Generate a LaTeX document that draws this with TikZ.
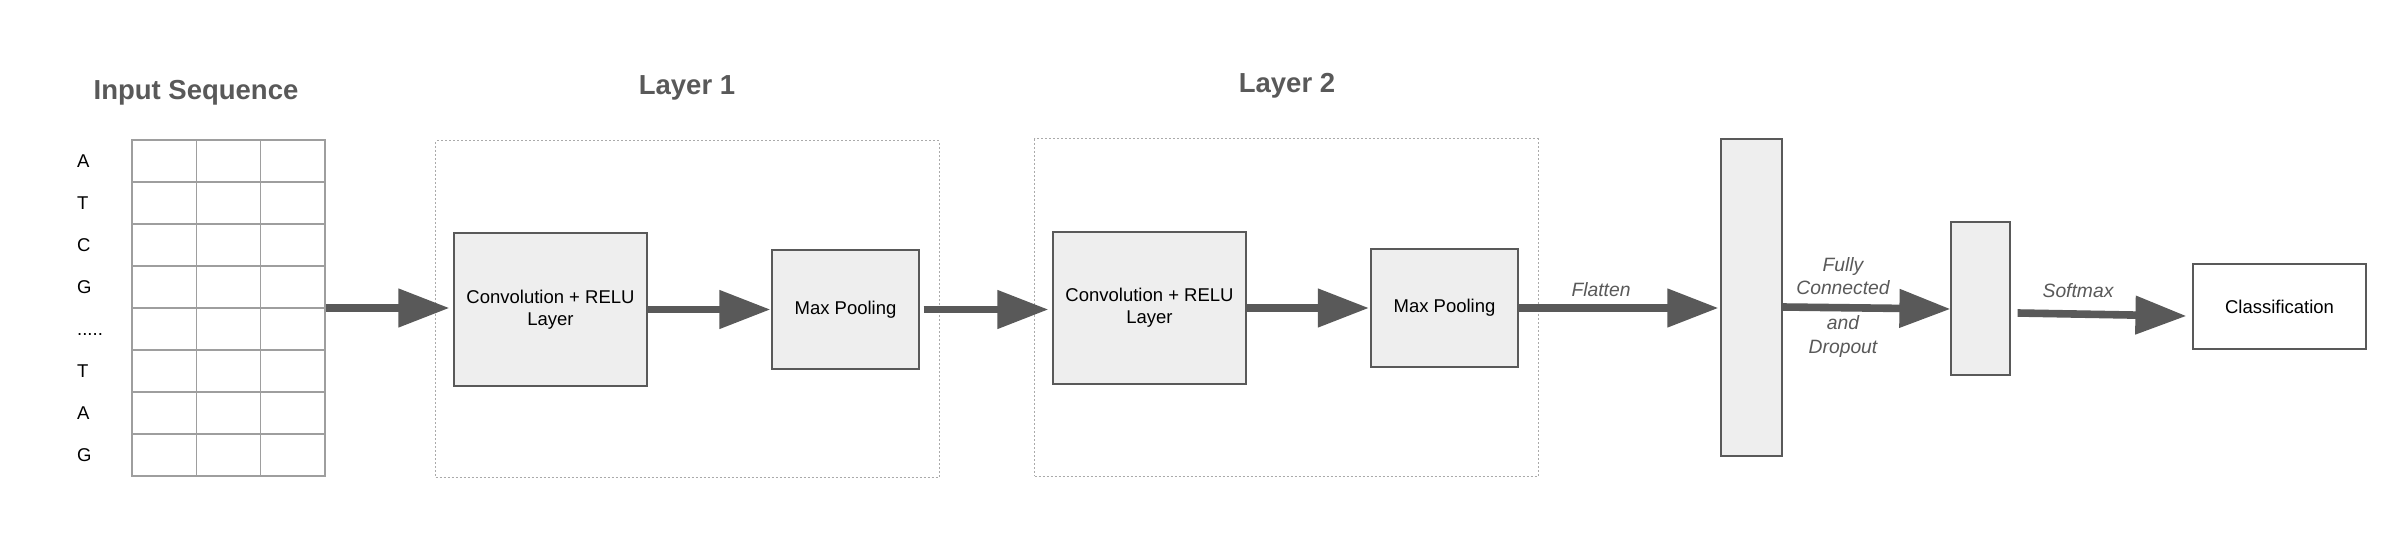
\documentclass[tikz,border=0pt]{standalone}
\usepackage{fontspec}
\setmainfont{Liberation Sans}
\usetikzlibrary{arrows.meta}
\definecolor{dk}{HTML}{595959}
\definecolor{boxfill}{HTML}{EEEEEE}
\definecolor{gridcol}{HTML}{9E9E9E}
\definecolor{dashcol}{HTML}{AAAAAA}
\newcommand\mybodyfont{\fontsize{18.5}{22}\selectfont}
\newcommand\myitfont{\fontsize{19.3}{23}\selectfont\itshape}
\newcommand\mytitlefont{\fontsize{27.5}{32}\selectfont\bfseries}
\newcommand\mydots{.....}
\begin{document}
\begin{tikzpicture}[x=1pt,y=-1pt,
  titletext/.style={font=\mytitlefont, text=dk, inner sep=0pt},
  box/.style={draw=dk, line width=1.2pt, fill=boxfill, inner sep=0pt, align=center, font=\mybodyfont},
  whitebox/.style={box, fill=white},
  gridbox/.style={draw=gridcol, line width=1.3pt, inner sep=0pt},
  gridline/.style={draw=gridcol, line width=1.3pt},
  dashedbox/.style={draw=dashcol, line width=1pt, dash pattern=on 2pt off 2pt, inner sep=0pt},
  rowlab/.style={font=\mybodyfont, inner sep=0pt, anchor=base west},
  arrlab/.style={font=\myitfont, text=dk, inner sep=0pt, align=center},
  arr/.style={draw=dk, line width=7.6pt, -{Triangle[length=51pt,width=37pt]}}
]
\useasboundingbox (0,0) rectangle (2400,540);
\fill[white] (0,0) rectangle (2400,540);

% titles
\node[titletext, anchor=base] (tin) at (196,100) {Input Sequence};
\node[titletext, anchor=base] (tone) at (687,95) {Layer 1};
\node[titletext, anchor=base] (ttwo) at (1287,93) {Layer 2};

% input grid
\node[gridbox, minimum width=193pt, minimum height=336pt] (grid) at (228.5,308) {};
\foreach \i in {1,...,7} \draw[gridline] (132,140+42*\i) -- (325,140+42*\i);
\foreach \x in {196.33,260.67} \draw[gridline] (\x,140) -- (\x,476);
\node[rowlab] (r1) at (77,167.5) {A};
\node[rowlab] (r2) at (77,209.5) {T};
\node[rowlab] (r3) at (77,251.5) {C};
\node[rowlab] (r4) at (77,293.5) {G};
\node[rowlab] (r5) at (77,335.5) {\mydots};
\node[rowlab] (r6) at (77,377.5) {T};
\node[rowlab] (r7) at (77,419.5) {A};
\node[rowlab] (r8) at (77,461.5) {G};

% layer frames
\node[dashedbox, minimum width=503.5pt, minimum height=336pt] (frameone) at (687.25,309) {};
\node[dashedbox, minimum width=503.5pt, minimum height=337pt] (frametwo) at (1286.25,307.5) {};

% boxes
\node[box, minimum width=193pt, minimum height=153pt] (convone) at (550.5,309.5) {Convolution + RELU\\Layer};
\node[box, minimum width=147pt, minimum height=119pt] (poolone) at (845.5,309.5) {Max Pooling};
\node[box, minimum width=193pt, minimum height=152pt] (convtwo) at (1149.5,308) {Convolution + RELU\\Layer};
\node[box, minimum width=147pt, minimum height=118pt] (pooltwo) at (1444.5,308) {Max Pooling};
\node[box, minimum width=61pt, minimum height=317pt] (tall) at (1751.5,297.5) {};
\node[box, minimum width=59pt, minimum height=153pt] (small) at (1980.5,298.5) {};
\node[whitebox, minimum width=173pt, minimum height=85pt] (cls) at (2279.5,306.5) {Classification};

% connectors
\draw[arr, shorten >=4pt] (grid.east) -- (grid.east -| convone.west);
\draw[arr, shorten >=1pt] (convone.east) -- (poolone.west);
\draw[arr, shorten <=4pt, shorten >=4pt] (poolone.east) -- (poolone.east -| convtwo.west);
\draw[arr, shorten >=1.5pt] (convtwo.east) -- (convtwo.east -| pooltwo.west);
\draw[arr, shorten >=2pt] (pooltwo.east) -- (pooltwo.east -| tall.west);
\coordinate (fcs) at ([yshift=-9.5pt]tall.east);
\coordinate (fce) at ([yshift=-10.5pt]small.west);
\draw[arr] (fcs) -- (fce);
\coordinate (sms) at ([xshift=7pt,yshift=-14.5pt]small.east);
\coordinate (sme) at ([xshift=-6pt,yshift=-9.5pt]cls.west);
\draw[arr] (sms) -- (sme);

% arrow labels
\node[arrlab, anchor=base] (lflat) at (1601,296) {Flatten};
\node[arrlab] (lfc) at (1843,276) {Fully\\Connected};
\node[arrlab, font=\fontsize{19.3}{24}\selectfont\itshape] (ldrop) at (1843,337) {and\\Dropout};
\node[arrlab, anchor=base] (lsoft) at (2078,297.5) {Softmax};
\end{tikzpicture}
\end{document}
